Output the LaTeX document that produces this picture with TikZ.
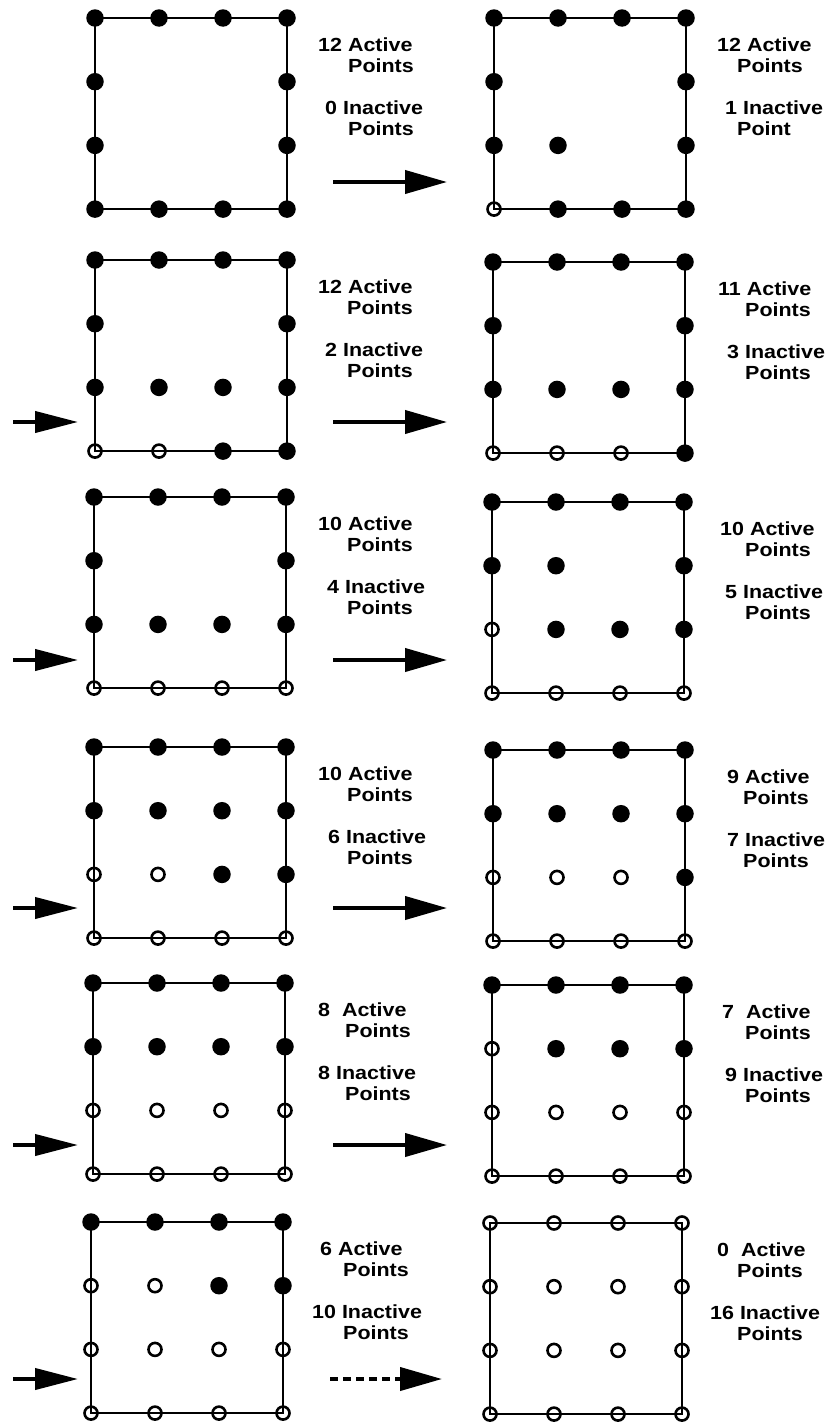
\documentclass[tikz,border=0pt]{standalone}
\usepackage{fontspec}
\newfontfamily\labfont{Liberation Sans}[FakeStretch=1.13]
\usetikzlibrary{arrows.meta}
\tikzset{
  sq/.style={line width=2pt},
  fdot/.style={circle,fill=black,inner sep=0pt,minimum size=17.5pt},
  odot/.style={circle,draw=black,line width=2.6pt,inner sep=0pt,minimum size=13pt},
  lab/.style={inner sep=0pt,anchor=base west,font=\labfont\bfseries\fontsize{19}{20}\selectfont},
  bigarrow/.style={line width=4pt,-{Triangle[length=42pt,width=23pt]}},
  dasharrow/.style={bigarrow,dash pattern=on 8pt off 5pt},
}
\newcommand\gridpanel[4]{%
  \coordinate (#1-tl) at (#2,#3);
  \coordinate (#1-br) at ({#2+192},{#3+191});
  \draw[sq] (#1-tl) rectangle (#1-br);
  \foreach \v [count=\k from 0] in {#4}{%
    \pgfmathtruncatemacro\cc{mod(\k,4)}%
    \pgfmathtruncatemacro\rr{div(\k,4)}%
    \if\v f\node[fdot] (#1-\rr-\cc) at ({#2+64*\cc},{#3+63.7*\rr}) {};\fi
    \if\v o\node[odot] (#1-\rr-\cc) at ({#2+64*\cc},{#3+63.7*\rr}) {};\fi
  }%
}
\newcommand\plabel[8]{%
  \node[lab] (#1-a) at (#3,{#2+33}) {#4};
  \node[lab] (#1-ap) at (#5,{#2+54}) {Points};
  \node[lab] (#1-i) at (#6,{#2+96}) {#7};
  \node[lab] (#1-ip) at (#5,{#2+117}) {#8};
}
\begin{document}
\begin{tikzpicture}[x=1pt,y=-1pt]
\useasboundingbox (0,0) rectangle (827,1424);
% row 1
\gridpanel{a}{95}{18}{f,f,f,f,f,n,n,f,f,n,n,f,f,f,f,f}
\gridpanel{b}{494}{18}{f,f,f,f,f,n,n,f,f,f,n,f,o,f,f,f}
\plabel{la}{18}{318}{12 Active}{348}{325}{0 Inactive}{Points}
\plabel{lb}{18}{717}{12 Active}{737}{725}{1 Inactive}{Point}
% row 2
\gridpanel{c}{95}{260}{f,f,f,f,f,n,n,f,f,f,f,f,o,o,f,f}
\gridpanel{d}{493}{262}{f,f,f,f,f,n,n,f,f,f,f,f,o,o,o,f}
\plabel{lc}{260}{318}{12 Active}{347}{325}{2 Inactive}{Points}
\plabel{ld}{262}{718}{11 Active}{745}{727}{3 Inactive}{Points}
% row 3
\gridpanel{e}{94}{497}{f,f,f,f,f,n,n,f,f,f,f,f,o,o,o,o}
\gridpanel{f}{492}{502}{f,f,f,f,f,f,n,f,o,f,f,f,o,o,o,o}
\plabel{le}{497}{318}{10 Active}{347}{327}{4 Inactive}{Points}
\plabel{lf}{502}{720}{10 Active}{745}{725}{5 Inactive}{Points}
% row 4
\gridpanel{g}{94}{747}{f,f,f,f,f,f,f,f,o,o,f,f,o,o,o,o}
\gridpanel{h}{493}{750}{f,f,f,f,f,f,f,f,o,o,o,f,o,o,o,o}
\plabel{lg}{747}{318}{10 Active}{347}{328}{6 Inactive}{Points}
\plabel{lh}{750}{727}{9 Active}{743}{727}{7 Inactive}{Points}
% row 5
\gridpanel{i}{93}{983}{f,f,f,f,f,f,f,f,o,o,o,o,o,o,o,o}
\gridpanel{j}{492}{985}{f,f,f,f,o,f,f,f,o,o,o,o,o,o,o,o}
\plabel{li}{983}{318}{8\ \ Active}{345}{318}{8 Inactive}{Points}
\plabel{lj}{985}{722}{7\ \ Active}{745}{725}{9 Inactive}{Points}
% row 6
\gridpanel{k}{91}{1222}{f,f,f,f,o,o,f,f,o,o,o,o,o,o,o,o}
\gridpanel{l}{490}{1223}{o,o,o,o,o,o,o,o,o,o,o,o,o,o,o,o}
\plabel{lk}{1222}{320}{6 Active}{343}{312}{10 Inactive}{Points}
\plabel{ll}{1223}{717}{0\ \ Active}{737}{710}{16 Inactive}{Points}
% middle arrows
\foreach \n/\y in {1/182,2/422,3/660,4/908,5/1145}{
  \coordinate (ms\n) at (333,\y);
  \coordinate (me\n) at (447,\y);
  \draw[bigarrow] (ms\n) -- (me\n);
}
\coordinate (ms6) at (330,1379);
\coordinate (me6) at (442,1379);
\draw[dasharrow] (ms6) -- (me6);
% left arrows
\foreach \n/\y in {2/422,3/660,4/908,5/1145,6/1379}{
  \coordinate (ls\n) at (13,\y);
  \coordinate (le\n) at (78,\y);
  \draw[bigarrow,-{Triangle[length=43pt,width=21pt]}] (ls\n) -- (le\n);
}
\end{tikzpicture}
\end{document}
